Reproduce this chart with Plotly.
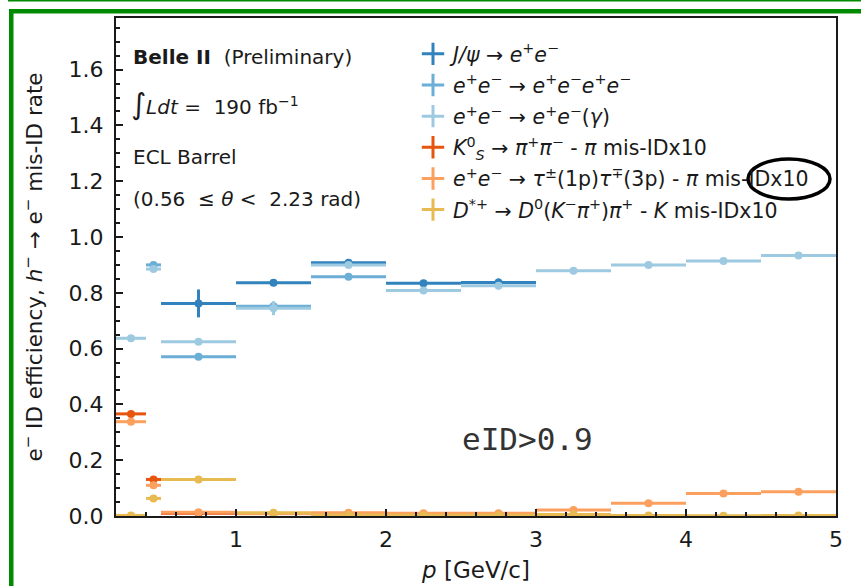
import plotly.graph_objects as go

# Momentum bins [GeV/c]
bin_lo = [0.2, 0.4, 0.5, 1.0, 1.5, 2.0, 2.5, 3.0, 3.5, 4.0, 4.5]
bin_hi = [0.4, 0.5, 1.0, 1.5, 2.0, 2.5, 3.0, 3.5, 4.0, 4.5, 5.0]

# Electron ID efficiencies
jpsi_eff = [None, None, 0.762, 0.836, 0.908, 0.834, 0.837, None, None, None, None]
jpsi_err = [0.0, 0.0, 0.050, 0.006, 0.007, 0.005, 0.014, 0.0, 0.0, 0.0, 0.0]

eeee_eff = [None, 0.900, 0.571, 0.752, 0.858, None, None, None, None, None, None]
eeee_err = [0.0, 0.006, 0.004, 0.006, 0.004, 0.0, 0.0, 0.0, 0.0, 0.0, 0.0]

eeg_eff = [0.637, 0.885, 0.625, 0.745, 0.900, 0.808, 0.825, 0.879, 0.900, 0.914, 0.934]
eeg_err = [0.003, 0.006, 0.003, 0.025, 0.004, 0.003, 0.012, 0.002, 0.002, 0.002, 0.002]

# Hadron mis-ID rates (x10)
ks_misid = [0.366, 0.131, 0.010, None, None, None, None, None, None, None, None]
ks_err = [0.004, 0.004, 0.002, 0.0, 0.0, 0.0, 0.0, 0.0, 0.0, 0.0, 0.0]

tau_misid = [0.338, 0.110, 0.013, 0.008, 0.012, 0.010, 0.010, 0.0215, 0.0455, 0.081, 0.087]
tau_err = [0.004, 0.004, 0.002, 0.001, 0.002, 0.001, 0.001, 0.002, 0.002, 0.002, 0.002]

dst_misid = [0.002, 0.063, 0.131, 0.012, 0.004, 0.003, 0.003, 0.005, 0.002, 0.001, 0.002]
dst_err = [0.001, 0.004, 0.003, 0.001, 0.001, 0.001, 0.001, 0.001, 0.001, 0.001, 0.001]

x_ticks = [1, 2, 3, 4, 5]

centers = [(a + b) / 2 for a, b in zip(bin_lo, bin_hi)]
half_widths = [(b - a) / 2 for a, b in zip(bin_lo, bin_hi)]

series = [
    ("<i>J/ψ</i> → <i>e</i><sup>+</sup><i>e</i><sup>−</sup>",
     jpsi_eff, jpsi_err, "#3182bd"),
    ("<i>e</i><sup>+</sup><i>e</i><sup>−</sup> → <i>e</i><sup>+</sup><i>e</i><sup>−</sup><i>e</i><sup>+</sup><i>e</i><sup>−</sup>",
     eeee_eff, eeee_err, "#6baed6"),
    ("<i>e</i><sup>+</sup><i>e</i><sup>−</sup> → <i>e</i><sup>+</sup><i>e</i><sup>−</sup>(<i>γ</i>)",
     eeg_eff, eeg_err, "#9ecae1"),
    ("<i>K</i><sup>0</sup><sub><i>S</i></sub> → <i>π</i><sup>+</sup><i>π</i><sup>−</sup> - <i>π</i> mis-IDx10",
     ks_misid, ks_err, "#e6550d"),
    ("<i>e</i><sup>+</sup><i>e</i><sup>−</sup> → <i>τ</i><sup>±</sup>(1p)<i>τ</i><sup>∓</sup>(3p) - <i>π</i> mis-IDx10",
     tau_misid, tau_err, "#fba05e"),
    ("<i>D</i><sup>*+</sup> → <i>D</i><sup>0</sup>(<i>K</i><sup>−</sup><i>π</i><sup>+</sup>)<i>π</i><sup>+</sup> - <i>K</i> mis-IDx10",
     dst_misid, dst_err, "#e7ba52"),
]

FONT = "DejaVu Sans"
W, H = 861, 586
ML, MR, MT, MB = 116, 25, 18, 70


def px(xp):
    return (xp - ML) / (W - ML - MR)


def py(yp):
    return (H - MB - yp) / (H - MT - MB)


fig = go.Figure()

for name, vals, errs, color in series:
    fig.add_trace(go.Scatter(
        x=centers, y=vals, mode="markers", showlegend=False,
        marker=dict(symbol="circle", size=8, color=color),
        error_x=dict(type="data", array=half_widths, color=color, thickness=3, width=0),
        error_y=dict(type="data", array=errs, color=color, thickness=3, width=0),
    ))

# legend entries drawn as error-bar crosses, one group each for even spacing
for i, (name, vals, errs, color) in enumerate(series):
    fig.add_trace(go.Scatter(
        x=[None], y=[None], mode="markers", name=name, legendgroup=f"g{i}",
        marker=dict(symbol="cross-thin", size=16, color=color,
                    line=dict(color=color, width=3)),
    ))

annotations = [
    dict(text="<b>Belle II</b>  (Preliminary)", x=px(131), y=py(57)),
    dict(text="<span style='font-size:29px'>∫</span><i>Ldt</i> =  190 fb<sup>−1</sup>", x=px(129), y=py(104)),
    dict(text="ECL Barrel", x=px(131), y=py(157)),
    dict(text="(0.56  ≤ <i>θ</i> &lt;  2.23 rad)", x=px(131), y=py(199)),
]
for a in annotations:
    a.update(xref="paper", yref="paper", xanchor="left", yanchor="middle",
             showarrow=False, font=dict(family=FONT, size=20, color="#1a1a1a"))
annotations.append(dict(
    text="eID&gt;0.9", xref="paper", yref="paper", x=px(527), y=py(439),
    xanchor="center", yanchor="middle", showarrow=False,
    font=dict(family="DejaVu Sans Mono", size=31, color="#333333")))

green = "#008a00"
shapes = [
    dict(type="rect", xref="paper", yref="paper", x0=px(8), x1=px(W), y0=py(1.5), y1=py(0),
         fillcolor=green, line=dict(width=0), layer="above"),
    dict(type="rect", xref="paper", yref="paper", x0=px(9), x1=px(W), y0=py(13.5), y1=py(9),
         fillcolor=green, line=dict(width=0), layer="above"),
    dict(type="rect", xref="paper", yref="paper", x0=px(9), x1=px(13.5), y0=py(H), y1=py(9),
         fillcolor=green, line=dict(width=0), layer="above"),
    dict(type="circle", xref="paper", yref="paper", x0=px(748), x1=px(830), y0=py(199), y1=py(159),
         line=dict(color="black", width=3.5), layer="above"),
]

axis_common = dict(
    showgrid=False, zeroline=False, showline=True, mirror=True, automargin=False,
    linecolor="#1a1a1a", linewidth=2, ticks="inside", ticklen=7, tickwidth=1.5,
    tickcolor="#1a1a1a", tickfont=dict(family=FONT, size=22, color="#1a1a1a"),
)

fig.update_layout(
    width=W, height=H, autosize=False,
    margin=dict(l=ML, r=MR, t=MT, b=MB),
    plot_bgcolor="white", paper_bgcolor="white",
    xaxis=dict(
        range=[0.2, 5.0], tickvals=x_ticks, ticklabelstandoff=3,
        minor=dict(dtick=0.2, tick0=0, ticks="inside", ticklen=4, tickcolor="#1a1a1a"),
        title=dict(text="<i>p</i> [GeV/c]", font=dict(family=FONT, size=23, color="#1a1a1a"), standoff=10),
        **axis_common,
    ),
    yaxis=dict(
        range=[0, 1.785], dtick=0.2, tick0=0, tickformat=".1f", ticklabelstandoff=6,
        minor=dict(dtick=0.05, tick0=0, ticks="inside", ticklen=4, tickcolor="#1a1a1a"),
        title=dict(text="e<sup>−</sup> ID efficiency, <i>h</i><sup>−</sup> → e<sup>−</sup> mis-ID rate",
                   font=dict(family=FONT, size=21.5, color="#1a1a1a"), standoff=20),
        **axis_common,
    ),
    legend=dict(
        x=px(413), y=py(34), xanchor="left", yanchor="top",
        bgcolor="rgba(0,0,0,0)", borderwidth=0, tracegroupgap=1.5,
        font=dict(family=FONT, size=20.5, color="#1a1a1a"),
    ),
    annotations=annotations,
    shapes=shapes,
)

fig.write_html("out.html")
